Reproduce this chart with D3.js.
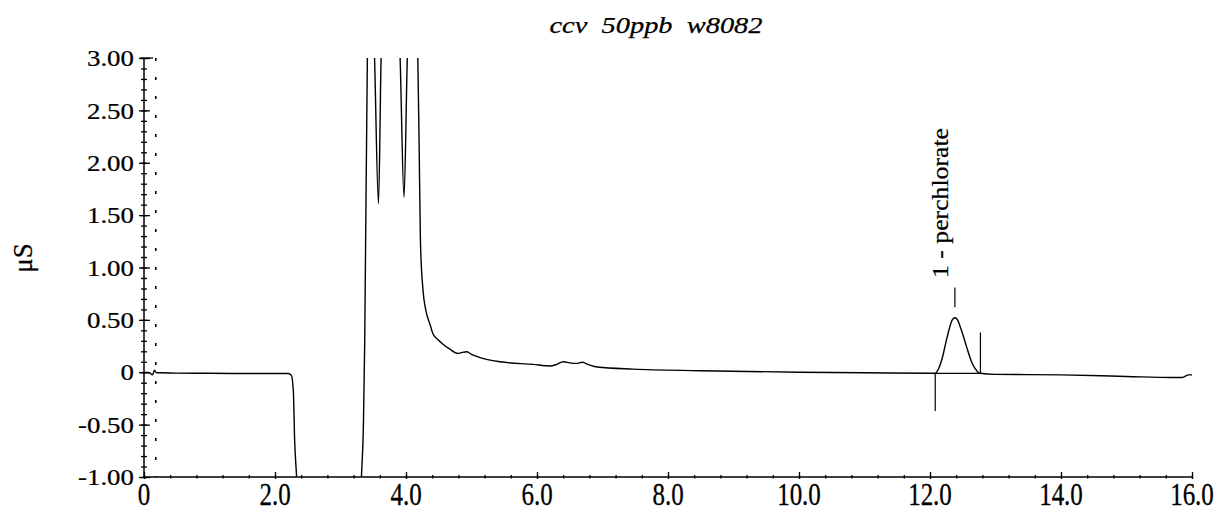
<!DOCTYPE html>
<html><head><meta charset="utf-8">
<script src="https://cdn.jsdelivr.net/npm/d3@7"></script>
<style>
body{margin:0;background:#fff}
svg{display:block}
text{font-family:"Liberation Serif","Times New Roman",serif;fill:#000;stroke:#000;stroke-width:0.25px}
</style></head>
<body><svg id="c" width="1220" height="512"></svg>
<script>
// ---- data (retention time in min, conductivity in µS) ----
const times = [0, 0.08, 0.13, 0.16, 0.19, 0.25, 0.5, 1.0, 1.5, 2.0, 2.2, 2.25, 2.28, 2.30, 2.33, 2.36,
  3.30, 3.32, 3.35, 3.37, 3.41, 3.44, 3.49, 3.52, 3.58, 3.62, 3.66, 3.87, 3.91, 3.97, 4.02, 4.06, 4.14,
  4.18, 4.20, 4.22, 4.26, 4.30, 4.37, 4.41, 4.49, 4.56, 4.67, 4.79, 4.86, 4.93, 5.0, 5.13, 5.44, 5.94,
  6.2, 6.3, 6.4, 6.5, 6.6, 6.69, 6.8, 6.92, 7.47, 8.49, 10.0, 11.0, 12.0, 12.08, 12.11, 12.18, 12.26,
  12.34, 12.38, 12.42, 12.48, 12.56, 12.64, 12.72, 12.76, 13.0, 14.0, 15.0, 15.7, 15.85, 15.95, 16.0];
const values = [0.0, -0.005, -0.025, 0.02, -0.005, -0.005, -0.008, -0.01, -0.012, -0.012, -0.012, -0.03, -0.18, -0.65, -1.0, -1.4,
  -1.4, -1.0, -0.5, 0.3, 3.0, 3.6, 3.6, 3.0, 1.61, 3.0, 3.6, 3.6, 3.0, 1.67, 3.0, 3.6, 3.6,
  3.0, 2.2, 1.26, 0.78, 0.6, 0.45, 0.37, 0.31, 0.27, 0.22, 0.18, 0.19, 0.195, 0.17, 0.14, 0.10, 0.075,
  0.06, 0.075, 0.10, 0.09, 0.085, 0.095, 0.07, 0.05, 0.03, 0.015, 0.0, -0.005, -0.01, -0.01, 0.01, 0.12, 0.33,
  0.50, 0.52, 0.50, 0.40, 0.24, 0.09, 0.01, -0.01, -0.02, -0.025, -0.04, -0.05, -0.05, -0.025, -0.025];

const title = "ccv  50ppb  w8082";
const yLabel = "\u03bcS";
const peakName = "1 - perchlorate";
const peakStart = 12.08, peakApex = 12.38, peakEnd = 12.77, peakBase = -0.01;
const injectTime = 0.18;

const xMajor = [0, 2, 4, 6, 8, 10, 12, 14, 16];
const xLabels = ["0", "2.0", "4.0", "6.0", "8.0", "10.0", "12.0", "14.0", "16.0"];
const xMinor = d3.range(0, 16.01, 0.4).map(v => +v.toFixed(2));
const yMajor = [3, 2.5, 2, 1.5, 1, 0.5, 0, -0.5, -1];
const yLabels = ["3.00", "2.50", "2.00", "1.50", "1.00", "0.50", "0", "-0.50", "-1.00"];
const yMinor = d3.range(-1, 3.001, 0.1).map(v => +v.toFixed(2));

// ---- chart ----
const svg = d3.select("#c");
const x = d3.scaleLinear().domain([0, 16]).range([144, 1192]);
const y = d3.scaleLinear().domain([-1, 3]).range([477, 58]);

svg.append("defs").append("clipPath").attr("id", "clip")
  .append("rect").attr("x", x(0)).attr("y", y(3)).attr("width", x(16) - x(0)).attr("height", y(-1) - y(3));

// injection marker (dotted)
svg.append("line").attr("x1", x(injectTime)).attr("x2", x(injectTime)).attr("y1", y(3)).attr("y2", y(-1))
  .attr("stroke", "#000").attr("stroke-width", 1.6).attr("stroke-dasharray", "3,16");

// axes: ticks crossing the axis line
function ax(gen, tx, ty) {
  const g = svg.append("g").attr("transform", `translate(${tx},${ty})`).call(gen);
  g.selectAll("text").remove();
  g.select(".domain").remove();
  g.selectAll("line").attr("stroke", "#000").attr("stroke-width", 1.3);
  return g;
}
ax(d3.axisLeft(y).tickValues(yMajor).tickSize(5), x(0), 0);
ax(d3.axisRight(y).tickValues(yMajor).tickSize(6), x(0), 0);
ax(d3.axisLeft(y).tickValues(yMinor).tickSize(3), x(0), 0);
ax(d3.axisRight(y).tickValues(yMinor).tickSize(3), x(0), 0);
ax(d3.axisTop(x).tickValues(xMajor).tickSize(5), 0, y(-1));
ax(d3.axisBottom(x).tickValues(xMajor).tickSize(2), 0, y(-1));
ax(d3.axisTop(x).tickValues(xMinor).tickSize(2), 0, y(-1));
ax(d3.axisBottom(x).tickValues(xMinor).tickSize(1.5), 0, y(-1));

svg.append("line").attr("x1", x(0)).attr("x2", x(0)).attr("y1", y(3)).attr("y2", y(-1))
  .attr("stroke", "#000").attr("stroke-width", 1.5);
svg.append("line").attr("x1", x(0)).attr("x2", x(16)).attr("y1", y(-1)).attr("y2", y(-1))
  .attr("stroke", "#000").attr("stroke-width", 1.5);
svg.append("line").attr("x1", x(0) - 4).attr("x2", x(0) + 9).attr("y1", y(3)).attr("y2", y(3))
  .attr("stroke", "#000").attr("stroke-width", 1.3);

// tick labels
svg.append("g").selectAll("text").data(yMajor).join("text")
  .attr("transform", d => `translate(134,${y(d)}) scale(1.12,1)`)
  .attr("dy", "0.34em").attr("text-anchor", "end").attr("font-size", 24)
  .text((d, i) => yLabels[i]);
svg.append("g").selectAll("text").data(xMajor).join("text")
  .attr("transform", d => `translate(${x(d)},505) scale(1,1.25)`)
  .attr("text-anchor", "middle").attr("font-size", 25)
  .text((d, i) => xLabels[i]);

// axis title and chart title
svg.append("text").attr("transform", "translate(32,258) rotate(-90)")
  .attr("text-anchor", "middle").attr("font-size", 27).text(yLabel);
svg.append("text").attr("x", 656).attr("y", 33).attr("text-anchor", "middle")
  .attr("font-size", 23).attr("font-style", "italic").attr("xml:space", "preserve")
  .style("white-space", "pre")
  .attr("textLength", 213).attr("lengthAdjust", "spacingAndGlyphs").text(title);

// trace
const pts = times.map((t, i) => [t, values[i]]);
svg.append("path").datum(pts).attr("clip-path", "url(#clip)")
  .attr("fill", "none").attr("stroke", "#000").attr("stroke-width", 1.4)
  .attr("d", d3.line().x(d => x(d[0])).y(d => y(d[1])).curve(d3.curveMonotoneX));

// peak integration markers
const mk = svg.append("g").attr("stroke", "#000").attr("stroke-width", 1.2);
mk.append("line").attr("x1", x(peakStart)).attr("x2", x(peakEnd)).attr("y1", y(peakBase)).attr("y2", y(peakBase));
mk.append("line").attr("x1", x(peakStart)).attr("x2", x(peakStart)).attr("y1", y(peakBase)).attr("y2", y(-0.37));
mk.append("line").attr("x1", x(peakEnd)).attr("x2", x(peakEnd)).attr("y1", y(peakBase)).attr("y2", y(0.38));
mk.append("line").attr("x1", x(peakApex)).attr("x2", x(peakApex)).attr("y1", y(0.62)).attr("y2", y(0.81));

svg.append("text").attr("transform", `translate(948,${y(0.9)}) rotate(-90)`)
  .attr("text-anchor", "start").attr("font-size", 23)
  .attr("textLength", 150).attr("lengthAdjust", "spacingAndGlyphs").text(peakName);
</script></body></html>
